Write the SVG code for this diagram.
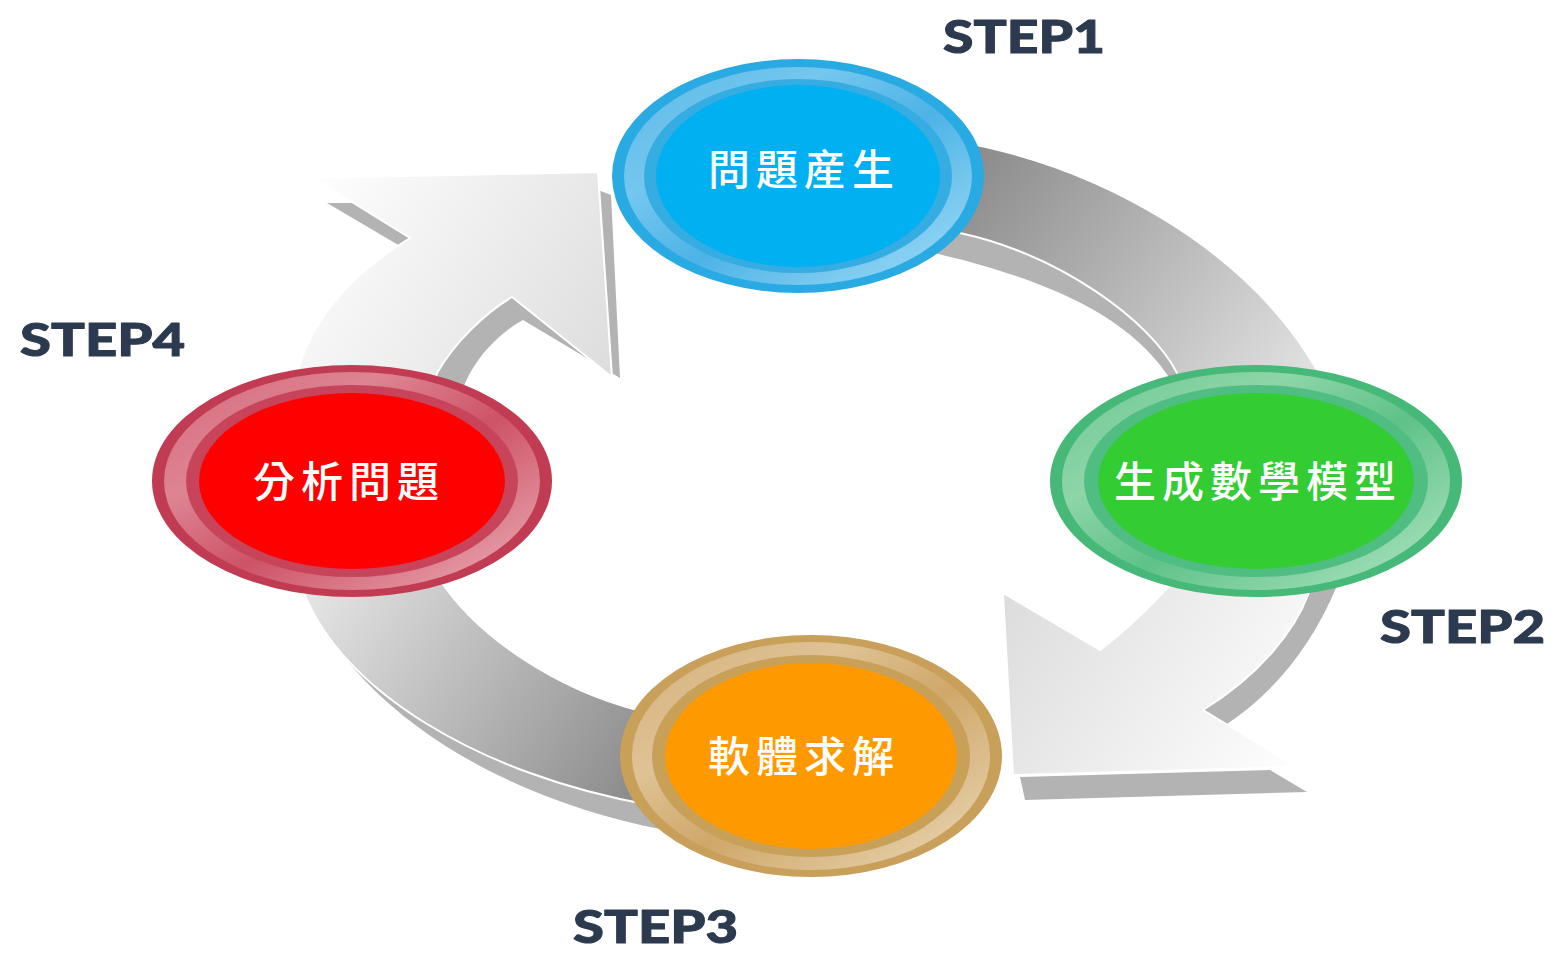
<svg xmlns="http://www.w3.org/2000/svg" width="1566" height="965" viewBox="0 0 1566 965">
<defs>
<style>
.strip{fill:#b3b3b3}
.body{stroke:#ffffff;stroke-width:2;stroke-linejoin:round}
.lbl{font-family:"Noto Sans CJK TC","Noto Sans CJK SC",sans-serif;font-weight:500;font-size:42px;fill:#ffffff;letter-spacing:6px;text-anchor:middle}
.step{font-family:Lato,"DejaVu Sans",sans-serif;font-weight:900;font-size:46px;fill:#2c3a4f;stroke:#2c3a4f;stroke-width:1;stroke-linejoin:round}
</style>
<linearGradient id="gA1" gradientUnits="userSpaceOnUse" x1="300" y1="180" x2="620" y2="380"><stop offset="0" stop-color="#ffffff"/><stop offset="1" stop-color="#dcdcdc"/></linearGradient>
<linearGradient id="gA2" gradientUnits="userSpaceOnUse" x1="1003" y1="593" x2="1300" y2="780"><stop offset="0" stop-color="#dcdcdc"/><stop offset="1" stop-color="#ffffff"/></linearGradient>
<linearGradient id="gB2" gradientUnits="userSpaceOnUse" x1="980" y1="150" x2="1310" y2="390"><stop offset="0" stop-color="#8c8c8c"/><stop offset="1" stop-color="#e3e3e3"/></linearGradient>
<linearGradient id="gB1" gradientUnits="userSpaceOnUse" x1="320" y1="590" x2="640" y2="800"><stop offset="0" stop-color="#e3e3e3"/><stop offset="1" stop-color="#8a8a8a"/></linearGradient>
<linearGradient id="rB" x1="0" y1="0" x2="1" y2="1"><stop offset="0" stop-color="#5ab9e8"/><stop offset="0.3" stop-color="#74c7ee"/><stop offset="0.55" stop-color="#4db3e6"/><stop offset="0.85" stop-color="#88d0f2"/><stop offset="1" stop-color="#5ab9e8"/></linearGradient>
<linearGradient id="rG" x1="0" y1="0" x2="1" y2="1"><stop offset="0" stop-color="#6cc793"/><stop offset="0.3" stop-color="#8ed5a8"/><stop offset="0.55" stop-color="#5fc287"/><stop offset="0.85" stop-color="#97dab1"/><stop offset="1" stop-color="#6cc793"/></linearGradient>
<linearGradient id="rO" x1="0" y1="0" x2="1" y2="1"><stop offset="0" stop-color="#d4b07a"/><stop offset="0.3" stop-color="#dfc295"/><stop offset="0.55" stop-color="#cfa86a"/><stop offset="0.85" stop-color="#e2c99f"/><stop offset="1" stop-color="#d4b07a"/></linearGradient>
<linearGradient id="rR" x1="0" y1="0" x2="1" y2="1"><stop offset="0" stop-color="#d66a7c"/><stop offset="0.3" stop-color="#dd8493"/><stop offset="0.55" stop-color="#cd5366"/><stop offset="0.85" stop-color="#e2929f"/><stop offset="1" stop-color="#d66a7c"/></linearGradient>
</defs>
<rect width="1566" height="965" fill="#ffffff"/>
<g id="connectors">
  <polygon class="strip" points="327,203 360,203 420,240 400,246"/>
  <path class="strip" d="M430,400 L462,392 C470,365 495,335 523,320 L620,378 L611,195 L598,190 L560,250 L500,290 C470,310 445,340 430,400 Z"/>
  <path class="body" fill="url(#gA1)" d="M292,400 C300,330 345,278 410,238 L313,178 L598,172 L612,377 L512,297 C485,313 455,342 437,373 L425,420 Z"/>
  <path class="strip" d="M930,225 L960,232 C1060,255 1150,320 1177,373 L1172,382 C1135,322 1060,282 930,252 Z"/>
  <path class="body" fill="url(#gB2)" d="M950,140 C1100,165 1250,250 1320,375 L1330,400 L1180,400 L1177,373 C1150,320 1060,255 960,233 L930,230 Z"/>
  <path class="strip" d="M1320,570 L1336,588 C1312,645 1275,692 1227,724 L1200,712 L1290,600 Z"/>
  <polygon class="strip" points="1020,777 1025,800 1307,792 1270,770"/>
  <path class="body" fill="url(#gA2)" d="M1320,560 L1308,595 C1295,630 1260,675 1203,710 L1297,767 L1013,775 L1003,593 L1100,650 C1120,635 1145,612 1170,585 L1180,560 Z"/>
  <path class="strip" d="M300,580 C345,700 485,795 665,830 L660,790 L300,585 Z"/>
  <path class="body" fill="url(#gB1)" d="M300,560 L303,590 C340,690 480,775 650,805 L660,720 L637,710 C560,690 480,640 440,580 L430,560 Z"/>
</g>
<g id="node1">
  <ellipse cx="798" cy="176" rx="186" ry="117" fill="#2aaae3"/>
  <ellipse cx="798" cy="176" rx="174" ry="109" fill="url(#rB)"/>
  <ellipse cx="798" cy="176" rx="154" ry="97" fill="#35ace2"/>
  <ellipse cx="798" cy="176" rx="142" ry="91" fill="#00b0f0"/>
  <text class="lbl" x="804" y="185">問題産生</text>
</g>
<g id="node2">
  <ellipse cx="1256" cy="481" rx="206" ry="116" fill="#46b878"/>
  <ellipse cx="1256" cy="481" rx="194" ry="109" fill="url(#rG)"/>
  <ellipse cx="1256" cy="481" rx="172" ry="96" fill="#50bd82"/>
  <ellipse cx="1256" cy="481" rx="158" ry="88" fill="#33cc33"/>
  <text class="lbl" x="1258" y="497">生成數學模型</text>
</g>
<g id="node3">
  <ellipse cx="811" cy="756" rx="191" ry="121" fill="#c9a05a"/>
  <ellipse cx="811" cy="756" rx="179" ry="114" fill="url(#rO)"/>
  <ellipse cx="811" cy="756" rx="159" ry="101" fill="#c9a058"/>
  <ellipse cx="811" cy="756" rx="146" ry="93" fill="#ff9900"/>
  <text class="lbl" x="804" y="772">軟體求解</text>
</g>
<g id="node4">
  <ellipse cx="352" cy="481" rx="200" ry="116" fill="#c13b53"/>
  <ellipse cx="352" cy="481" rx="188" ry="109" fill="url(#rR)"/>
  <ellipse cx="352" cy="481" rx="166" ry="96" fill="#c8445a"/>
  <ellipse cx="352" cy="481" rx="153" ry="88" fill="#ff0000"/>
  <text class="lbl" x="349" y="497">分析問題</text>
</g>
<g id="labels">
  <text class="step" x="943" y="53" textLength="162" lengthAdjust="spacingAndGlyphs">STEP1</text>
  <text class="step" x="1380" y="643" textLength="165" lengthAdjust="spacingAndGlyphs">STEP2</text>
  <text class="step" x="573" y="943" textLength="165" lengthAdjust="spacingAndGlyphs">STEP3</text>
  <text class="step" x="20" y="356" textLength="165" lengthAdjust="spacingAndGlyphs">STEP4</text>
</g>
</svg>
